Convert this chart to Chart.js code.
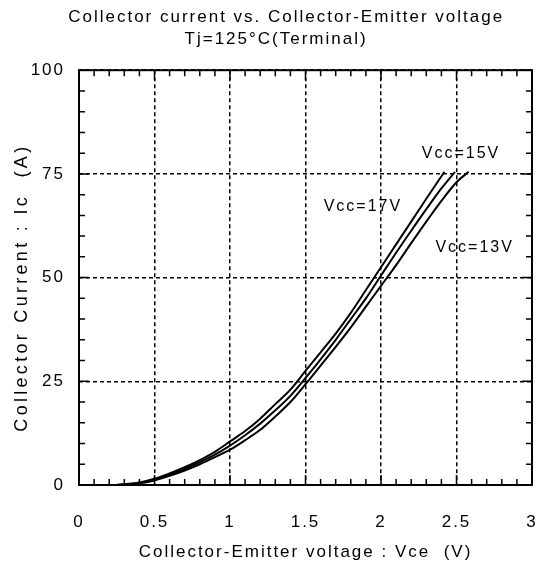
<!DOCTYPE html>
<html>
<head>
<meta charset="utf-8">
<script src="https://cdn.jsdelivr.net/npm/chart.js@4"></script>
<style>
  html, body { margin: 0; padding: 0; background: #ffffff; }
  #wrap { width: 550px; height: 569px; }
</style>
</head>
<body>
<div id="wrap"><canvas id="ivChart"></canvas></div>
<script>
// curve data
const vce17 = [0.25, 0.4, 0.5, 0.6, 0.7, 0.8, 0.9, 1.0, 1.1, 1.2, 1.3, 1.4, 1.5, 1.6, 1.7, 1.8, 1.9, 2.0, 2.1, 2.2, 2.3, 2.42];
const ic17  = [0,    0.6, 1.5, 2.8, 4.3, 6.0, 8.0, 10.5, 13, 16, 19.5, 23, 27.5, 32, 36.5, 41.5, 47, 52.5, 58, 63.5, 69, 75.5];

const vce15 = [0.25, 0.4, 0.5, 0.6, 0.7, 0.8, 0.9, 1.0, 1.1, 1.2, 1.3, 1.4, 1.5, 1.6, 1.7, 1.8, 1.9, 2.0, 2.1, 2.2, 2.3, 2.4, 2.49];
const ic15  = [0,    0.5, 1.3, 2.5, 3.9, 5.5, 7.3, 9.5, 12, 14.8, 18, 21.5, 25.8, 30.3, 35, 40, 45, 50.5, 56, 61.3, 66.5, 71.5, 75.5];

const vce13 = [0.25, 0.4, 0.5, 0.6, 0.7, 0.8, 0.9, 1.0, 1.1, 1.2, 1.3, 1.4, 1.5, 1.6, 1.7, 1.8, 1.9, 2.0, 2.1, 2.2, 2.3, 2.4, 2.5, 2.58];
const ic13  = [0,    0.4, 1.1, 2.2, 3.5, 5.0, 6.7, 8.5, 10.8, 13.3, 16.5, 20, 24.3, 28.8, 33.3, 38, 43, 48, 53, 58.3, 63.5, 68.5, 73, 75.5];

const curveLabels = ['Vcc=17V', 'Vcc=15V', 'Vcc=13V'];
const labelX = [1.88, 2.53, 2.62];
const labelY = [67, 80, 57.3];

const xTicks = [0, 0.5, 1, 1.5, 2, 2.5, 3];
const yTicks = [0, 25, 50, 75, 100];
const xMinorStep = 0.1;
const yMinorStep = 5;

const yTitle = 'Collector Current : Ic  (A)';

function toPoints(xs, ys) {
    return xs.map((x, i) => ({ x: x, y: ys[i] }));
}

const FONT = '"Liberation Sans", Arial, sans-serif';

// frame, inward ticks, y title and curve labels
const framePlugin = {
    id: 'frame',
    beforeDraw(chart) {
        chart.ctx.letterSpacing = '2px';
    },
    afterDraw(chart) {
        const { ctx, chartArea: a, scales } = chart;
        const xs = scales.x, ys = scales.y;
        ctx.save();
        ctx.strokeStyle = '#000';
        ctx.lineWidth = 1.5;
        ctx.beginPath();
        const nx = Math.round((xs.max - xs.min) / xMinorStep);
        for (let i = 0; i <= nx; i++) {
            const v = xs.min + i * xMinorStep;
            const len = (i % 5 === 0) ? 10 : 6;
            const px = xs.getPixelForValue(v);
            ctx.moveTo(px, a.bottom); ctx.lineTo(px, a.bottom - len);
            ctx.moveTo(px, a.top); ctx.lineTo(px, a.top + len);
        }
        const ny = Math.round((ys.max - ys.min) / yMinorStep);
        for (let i = 0; i <= ny; i++) {
            const v = ys.min + i * yMinorStep;
            const len = (i % 5 === 0) ? 10 : 6;
            const py = ys.getPixelForValue(v);
            ctx.moveTo(a.left, py); ctx.lineTo(a.left + len, py);
            ctx.moveTo(a.right, py); ctx.lineTo(a.right - len, py);
        }
        ctx.stroke();

        ctx.lineWidth = 2;
        ctx.strokeRect(a.left, a.top, a.right - a.left, a.bottom - a.top);

        ctx.fillStyle = '#000';
        ctx.textAlign = 'center';
        ctx.textBaseline = 'middle';

        // y axis title, wider tracking like the original
        ctx.save();
        ctx.font = '18px ' + FONT;
        ctx.letterSpacing = '3.3px';
        ctx.translate(22, (a.top + a.bottom) / 2 + 10);
        ctx.rotate(-Math.PI / 2);
        ctx.fillText(yTitle, 0, 0);
        ctx.restore();

        ctx.font = '16px ' + FONT;
        curveLabels.forEach((t, i) => {
            ctx.fillText(t, xs.getPixelForValue(labelX[i]), ys.getPixelForValue(labelY[i]));
        });
        ctx.restore();
    }
};

const lineStyle = {
    borderColor: '#000000',
    borderWidth: 2,
    pointRadius: 0,
    fill: false,
    cubicInterpolationMode: 'monotone'
};

new Chart(document.getElementById('ivChart'), {
    type: 'scatter',
    data: {
        datasets: [
            Object.assign({ label: curveLabels[0], data: toPoints(vce17, ic17), showLine: true }, lineStyle),
            Object.assign({ label: curveLabels[1], data: toPoints(vce15, ic15), showLine: true }, lineStyle),
            Object.assign({ label: curveLabels[2], data: toPoints(vce13, ic13), showLine: true }, lineStyle)
        ]
    },
    options: {
        responsive: true,
        maintainAspectRatio: false,
        animation: false,
        layout: { padding: { left: 0, right: 18, top: 0, bottom: 0 } },
        plugins: {
            legend: { display: false },
            tooltip: { enabled: false },
            title: {
                display: true,
                text: ['      Collector current vs. Collector-Emitter voltage', '   Tj=125°C(Terminal)'],
                color: '#000',
                font: { family: FONT, size: 17, weight: 'normal', lineHeight: 1.3 },
                padding: { top: 6, bottom: 20 }
            }
        },
        scales: {
            x: {
                type: 'linear',
                min: 0,
                max: 3,
                afterBuildTicks: (s) => { s.ticks = xTicks.map(v => ({ value: v })); },
                afterFit: (s) => { s.height = 84; s.paddingLeft = 0; s.paddingRight = 0; },
                border: { display: false, dash: [4, 3] },
                grid: { color: '#000', lineWidth: 1.5, drawTicks: false },
                ticks: {
                    color: '#000', padding: 27, maxRotation: 0,
                    font: { family: FONT, size: 17 },
                    callback: (v) => String(v)
                },
                title: {
                    display: true,
                    text: 'Collector-Emitter voltage : Vce  (V)',
                    color: '#000',
                    font: { family: FONT, size: 17 },
                    padding: { top: 0, bottom: 6 }
                }
            },
            y: {
                type: 'linear',
                min: 0,
                max: 100,
                afterBuildTicks: (s) => { s.ticks = yTicks.map(v => ({ value: v })); },
                afterFit: (s) => { s.width = 79; },
                border: { display: false, dash: [4, 3] },
                grid: { color: '#000', lineWidth: 1.5, drawTicks: false },
                ticks: { color: '#000', padding: 14, font: { family: FONT, size: 17 } },
                title: { display: false }
            }
        }
    },
    plugins: [framePlugin]
});
</script>
</body>
</html>
